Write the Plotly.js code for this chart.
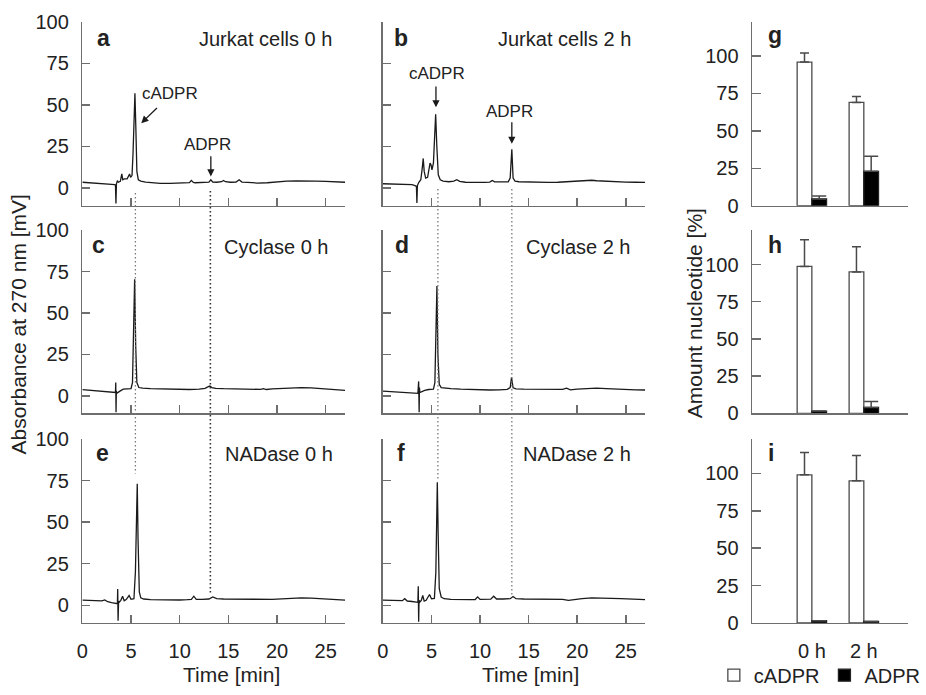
<!DOCTYPE html>
<html>
<head>
<meta charset="utf-8">
<script src="https://cdn.plot.ly/plotly-3.0.1.min.js"></script>
<style>html,body{margin:0;padding:0;background:#fff;overflow:hidden;}#chart{width:926px;height:695px;display:block;}</style>
</head>
<body>
<div id="chart"></div>
<script>
// ---------- DATA ----------
// Chromatograms: retention time [min] and absorbance [mV]
const tA = [0,1,2,3,3.3,3.4,3.45,3.5,3.6,3.7,3.9,4.05,4.15,4.3,4.6,4.85,4.95,5.1,5.2,5.3,5.4,5.5,5.6,5.75,6.0,6.5,7,8,9,10,11,11.2,11.4,11.6,12,12.6,13.0,13.2,13.4,13.8,14.3,14.5,14.7,15.2,15.8,16.1,16.4,17,18,19,20,21,22,23,24,25,26,27];
const vA = [3.5,3.2,2.8,2.2,2.0,1.8,-9.3,2.5,4.5,3.5,4.0,8.5,5.0,5.5,5.5,8.5,6.5,7.5,20,45,57,35,10,5,4.2,3.6,3.2,2.8,2.8,3.0,3.3,4.6,3.4,3.2,3.4,3.5,3.6,5.0,3.6,3.5,3.8,4.5,3.8,3.5,3.6,5.0,3.6,3.4,3.0,3.2,3.8,4.2,4.3,4.4,4.2,4.0,3.7,3.5];

const tB = [0,1,2,3,3.3,3.45,3.5,3.55,3.7,3.9,4.05,4.15,4.25,4.4,4.6,4.75,4.85,4.95,5.05,5.2,5.3,5.43,5.55,5.7,5.9,6.2,6.8,7.3,7.6,7.9,8.5,9.5,10.5,11.0,11.25,11.5,12.2,12.9,13.1,13.27,13.4,13.6,14,15,16,17,18,19,20,21,21.5,22,23,24,25,26,27];
const vB = [2.6,2.5,2.2,2.0,1.5,1.0,-8.9,1.5,3.5,5,12,17.8,10,6,6.5,12,15,14,11,15,30,44.4,25,8,5,4.2,3.8,4.2,5.0,4.0,3.5,3.3,3.4,3.6,4.6,3.7,3.6,3.8,6,23.3,6,4.2,3.8,3.6,3.5,3.4,3.5,3.8,4.2,4.6,4.7,4.4,4.0,3.8,3.6,3.5,3.4];

const tC = [0,1,2,3,3.4,3.43,3.46,3.49,3.52,3.7,3.9,4.2,4.6,5.0,5.15,5.25,5.37,5.48,5.6,5.8,6.2,7,8,9,10,11,12,12.6,13.0,13.1,13.3,13.7,14.5,15.5,16.5,17.5,18.3,18.6,18.9,19.5,20.5,21.5,22.5,23.5,24.5,25.5,26.5,27];
const vC = [3.7,3.3,2.9,2.3,2.0,8.1,-10,3,1.5,2.0,3.0,4.0,4.2,4.4,8,45,70.4,30,8,5,4.6,4.3,4.1,3.8,3.7,3.8,4.0,4.5,5.7,5.9,5.0,4.5,4.3,4.2,4.0,3.8,3.9,4.3,3.8,4.2,4.6,4.9,5.0,4.8,4.4,4.0,3.6,3.3];

const tD = [0,1,2,3,3.6,3.68,3.73,3.76,3.8,4.0,4.3,4.7,5.2,5.35,5.45,5.56,5.66,5.8,6.0,6.4,7,8,9,10,11,12,12.8,13.1,13.24,13.4,13.7,14.5,15.5,16.5,17.5,18.5,18.9,19.3,20,21,22,23,24,25,26,27];
const vD = [2.8,2.5,2.2,1.8,1.5,8.7,-10,5,2,2.5,3.3,3.8,4.0,8,40,66.3,25,7,5,4.6,4.3,4.0,3.7,3.5,3.5,3.6,3.9,5,11.2,4.8,4.2,4.0,3.9,3.8,3.8,3.9,4.6,3.6,4.0,4.5,4.7,4.4,4.0,3.8,3.6,3.5];

const tE = [0,1,2,2.3,2.6,3,3.5,3.6,3.63,3.67,3.72,3.8,3.95,4.13,4.3,4.5,4.8,5.0,5.3,5.45,5.55,5.64,5.72,5.85,6.0,6.3,7,8,9,10,10.8,11.2,11.45,11.7,12.3,13.0,13.4,13.8,14.5,15.5,16.5,17.5,18.5,19.5,20.5,21.5,22.5,23.5,24.5,25.5,26.5,27];
const vE = [3.1,2.8,2.7,3.3,2.2,1.6,1.4,1.0,9.8,-9.2,2.5,2.0,3.0,5.5,2.8,3.5,5.9,3.6,4.0,20,55,73.1,40,8,4.5,3.8,3.4,3.2,3.0,3.2,3.4,3.6,5.5,3.6,3.6,3.8,5.0,4.0,3.8,3.7,3.6,3.5,3.5,3.6,3.9,4.3,4.5,4.3,4.0,3.6,3.3,3.1];

const tF = [0,1,2,2.25,2.5,3,3.5,3.6,3.64,3.68,3.72,3.8,3.95,4.1,4.25,4.45,4.8,5.0,5.3,5.45,5.52,5.6,5.68,5.8,6.0,6.3,7,8,9,9.5,9.75,10.0,10.6,11.1,11.4,11.7,12.4,13.1,13.4,13.7,14.5,15.5,16.5,17.5,18.5,19.1,19.6,20.5,21.5,22.5,23.5,24.5,25.5,26.5,27];
const vF = [3.1,2.8,2.8,4.0,2.6,2.3,2.0,1.8,11.4,-9.8,3.0,2.0,3.0,5.9,2.5,3.0,6.5,4.0,4.2,20,50,74,45,10,5,4.0,3.6,3.3,3.4,3.5,5.1,3.6,3.5,3.7,5.5,3.8,3.8,4.0,5.3,4.0,3.8,3.7,3.7,3.6,3.6,3.0,3.5,4.0,4.5,4.5,4.2,4.0,3.7,3.5,3.4];

// Peak retention times marked by dotted guide lines
const peakLeft = {cADPR: 5.45, ADPR: 13.15};
const peakRight = {cADPR: 5.66, ADPR: 13.27};

// Bar charts: amount nucleotide [%]
const categories = ['0 h', '2 h'];
const gCADPR = [96, 69],   gCADPRerr = [6, 4];
const gADPR  = [4.5, 23],  gADPRerr  = [2, 10];
const hCADPR = [98.7, 95], hCADPRerr = [18, 17];
const hADPR  = [1.5, 4],   hADPRerr  = [0, 4];
const iCADPR = [99, 95],   iCADPRerr = [15, 17];
const iADPR  = [1.5, 1],   iADPRerr  = [0, 0];
const noErr = [0, 0];

const timeTicks = [0, 5, 10, 15, 20, 25];
const absTicks = [0, 25, 50, 75, 100];
const pctTicks = [0, 25, 50, 75, 100];

const panelTitles = ['Jurkat cells 0 h', 'Jurkat cells 2 h', 'Cyclase 0 h', 'Cyclase 2 h', 'NADase 0 h', 'NADase 2 h'];
const panelLetters = ['a', 'b', 'g', 'c', 'd', 'h', 'e', 'f', 'i'];

// ---------- LAYOUT HELPERS ----------
const W = 926, H = 695;
const PX = p => p / W;
const PY = p => 1 - p / H;
const textColor = '#222';
const axisColor = '#6e6e6e';
const FONT = 'Liberation Sans, Arial, Helvetica, sans-serif';

const colA = [PX(84), PX(352)], colB = [PX(390.5), PX(658)], colC = [PX(767), 1];
const row1 = [PY(209), PY(22)], row2 = [PY(420), PY(234)], row3 = [PY(633), PY(446)];

function chromX(domain, anchor, labels) {
  return {domain, anchor, range: [0, 27], tickvals: timeTicks, ticks: 'inside', ticklen: 8, tickwidth: 1.5,
    tickcolor: axisColor, showline: true, linecolor: axisColor, linewidth: 1.5, showgrid: false, zeroline: false,
    showticklabels: labels, tickfont: {size: 20, color: textColor}, ticklabelstandoff: 10};
}
function chromY(domain, anchor, labels) {
  return {domain, anchor, range: [-10.6, 100], tickvals: absTicks, ticks: 'inside', ticklen: 8, tickwidth: 1.5,
    tickcolor: axisColor, showline: true, linecolor: axisColor, linewidth: 1.5, showgrid: false, zeroline: false,
    showticklabels: labels, tickfont: {size: 20, color: textColor}, ticklabelstandoff: 8};
}
function barX(domain, anchor, labels) {
  return {domain, anchor, type: 'category', range: [-1.15, 1.85], ticks: '', showline: true, linecolor: axisColor,
    linewidth: 1.5, showgrid: false, zeroline: false, showticklabels: labels, tickfont: {size: 20, color: textColor},
    ticklabelstandoff: 10};
}
function barY(domain, anchor) {
  return {domain, anchor, range: [0, 123], tickvals: pctTicks, ticks: 'inside', ticklen: 9, tickwidth: 1.5,
    tickcolor: axisColor, showline: true, linecolor: axisColor, linewidth: 1.5, showgrid: false, zeroline: false,
    tickfont: {size: 20, color: textColor}, ticklabelstandoff: 8};
}

// ---------- TRACES ----------
const lineStyle = {color: '#1a1a1a', width: 1.3};
const chrom = [[tA, vA, 'x', 'y'], [tB, vB, 'x2', 'y2'], [tC, vC, 'x4', 'y4'], [tD, vD, 'x5', 'y5'], [tE, vE, 'x7', 'y7'], [tF, vF, 'x8', 'y8']];
const traces = chrom.map(([t, v, xa, ya]) => ({type: 'scatter', mode: 'lines', x: t, y: v, xaxis: xa, yaxis: ya,
  line: lineStyle, showlegend: false, hoverinfo: 'skip'}));

const barSets = [
  [gCADPR, gCADPRerr, gADPR, gADPRerr, 'x3', 'y3', false],
  [hCADPR, hCADPRerr, hADPR, hADPRerr, 'x6', 'y6', false],
  [iCADPR, iCADPRerr, iADPR, iADPRerr, 'x9', 'y9', true]
];
barSets.forEach(([c, ce, a, ae, xa, ya, leg]) => {
  traces.push({type: 'bar', name: 'cADPR', x: categories, y: c, xaxis: xa, yaxis: ya, showlegend: leg, legendgroup: 'c',
    marker: {color: '#ffffff', line: {color: '#4a4a4a', width: 1.3}},
    error_y: {type: 'data', symmetric: false, array: ce, arrayminus: noErr, color: '#4a4a4a', thickness: 1.5, width: 4.5},
    hoverinfo: 'skip'});
  traces.push({type: 'bar', name: 'ADPR', x: categories, y: a, xaxis: xa, yaxis: ya, showlegend: leg, legendgroup: 'a',
    marker: {color: '#000000', line: {color: '#222', width: 1.3}},
    error_y: {type: 'data', symmetric: false, array: ae, arrayminus: noErr, color: '#4a4a4a', thickness: 1.5, width: 7},
    hoverinfo: 'skip'});
});

// ---------- ANNOTATIONS ----------
const annotations = [];
function txt(text, x, y, size, opts) {
  annotations.push(Object.assign({xref: 'paper', yref: 'paper', x: PX(x), y: PY(y), text, showarrow: false,
    font: {size, color: textColor, family: FONT}, xanchor: 'center', yanchor: 'middle'}, opts || {}));
}
// panel titles (right aligned)
const titlePos = [[341, 40], [646, 40], [338, 251], [646, 251], [342, 461], [646, 461]];
panelTitles.forEach((t, k) => txt(t, titlePos[k][0], titlePos[k][1], 20, {xanchor: 'right'}));
// panel letters
const letterPos = [[106, 39], [409, 39], [790, 36], [100, 249], [410, 249], [790, 249], [105, 460], [409, 460], [786, 460]];
panelLetters.forEach((l, k) => txt('<b>' + l + '</b>', letterPos[k][0], letterPos[k][1], 23));
// axis titles
txt('Absorbance at 270 nm [mV]', 19, 330, 21, {textangle: -90});
txt('Amount nucleotide [%]', 709, 318, 21, {textangle: -90});
txt('Time [min]', 236, 685, 21);
txt('Time [min]', 541, 685, 21);
// peak labels
txt('cADPR', 173, 95, 17);
txt('ADPR', 212, 147, 17);
txt('cADPR', 446, 75, 17);
txt('ADPR', 520, 113, 17);
// arrows (data coordinates)
function arrow(xa, ya, x0, y0, x1, y1) {
  annotations.push({xref: xa, yref: ya, axref: xa, ayref: ya, ax: x0, ay: y0, x: x1, y: y1, text: '', showarrow: true,
    arrowhead: 2, arrowsize: 1.1, arrowwidth: 1.3, arrowcolor: '#1a1a1a'});
}
arrow('x', 'y', 7.82, 49, 6.05, 39);
arrow('x', 'y', 13.2, 20, 13.2, 7);
arrow('x2', 'y2', 5.46, 62, 5.46, 48.5);
arrow('x2', 'y2', 13.27, 40.4, 13.27, 26.6);

// ---------- DOTTED GUIDE LINES ----------
const shapes = [
  {type: 'line', xref: 'x', yref: 'paper', x0: peakLeft.cADPR, x1: peakLeft.cADPR, y0: PY(196), y1: PY(481), line: {color: '#777', width: 1.3, dash: '1.5px,2.5px'}},
  {type: 'line', xref: 'x', yref: 'paper', x0: peakLeft.ADPR, x1: peakLeft.ADPR, y0: PY(194), y1: PY(603), line: {color: '#333', width: 1.6, dash: '1.5px,2.5px'}},
  {type: 'line', xref: 'x2', yref: 'paper', x0: peakRight.cADPR, x1: peakRight.cADPR, y0: PY(192), y1: PY(487), line: {color: '#777', width: 1.3, dash: '1.5px,2.5px'}},
  {type: 'line', xref: 'x2', yref: 'paper', x0: peakRight.ADPR, x1: peakRight.ADPR, y0: PY(192), y1: PY(605), line: {color: '#777', width: 1.3, dash: '1.5px,2.5px'}}
];

const layout = {
  width: W, height: H, margin: {l: 0, r: 0, t: 0, b: 0}, paper_bgcolor: '#fff', plot_bgcolor: '#fff',
  font: {family: FONT, color: textColor, size: 20},
  barmode: 'group', bargap: 0.434, bargroupgap: 0,
  showlegend: true,
  legend: {orientation: 'h', x: PX(728), y: PY(686), xanchor: 'left', yanchor: 'middle', font: {size: 20, color: textColor},
    itemwidth: 30, bgcolor: 'rgba(0,0,0,0)', traceorder: 'normal', tracegroupgap: 0},
  xaxis: chromX(colA, 'y', false), yaxis: chromY(row1, 'x', true),
  xaxis2: chromX(colB, 'y2', false), yaxis2: chromY(row1, 'x2', false),
  xaxis3: barX(colC, 'y3', false), yaxis3: barY(row1, 'x3'),
  xaxis4: chromX(colA, 'y4', false), yaxis4: chromY(row2, 'x4', true),
  xaxis5: chromX(colB, 'y5', false), yaxis5: chromY(row2, 'x5', false),
  xaxis6: barX(colC, 'y6', false), yaxis6: barY(row2, 'x6'),
  xaxis7: chromX(colA, 'y7', true), yaxis7: chromY(row3, 'x7', true),
  xaxis8: chromX(colB, 'y8', true), yaxis8: chromY(row3, 'x8', false),
  xaxis9: barX(colC, 'y9', true), yaxis9: barY(row3, 'x9'),
  annotations, shapes
};

Plotly.newPlot('chart', traces, layout, {staticPlot: true, displayModeBar: false});
</script>
</body>
</html>
